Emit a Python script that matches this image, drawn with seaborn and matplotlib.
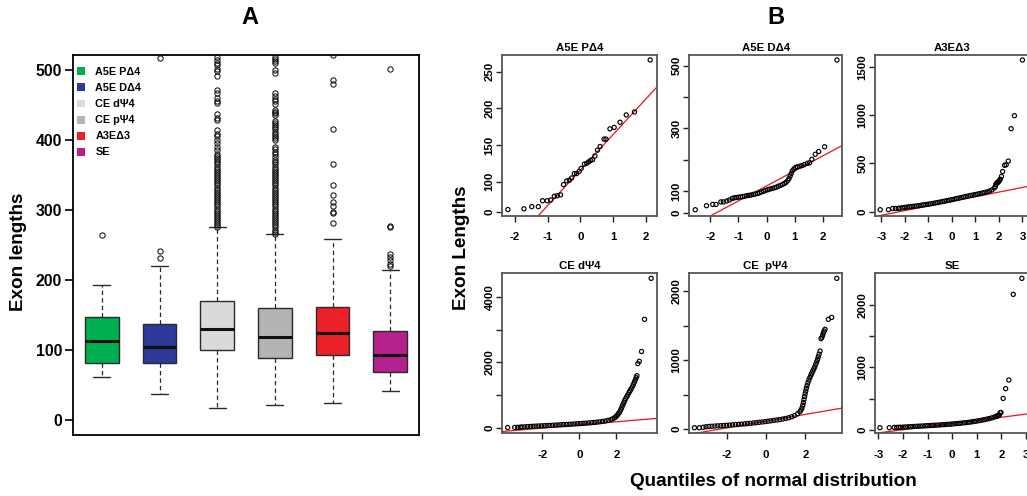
import matplotlib
matplotlib.use("Agg")
import matplotlib.pyplot as plt
from matplotlib.patches import Patch
import seaborn as sns

# ---------------- data ----------------
categories = ["A5E PΔ4", "A5E DΔ4", "CE dΨ4", "CE pΨ4", "A3EΔ3", "SE"]
box_colors = ["#00AF50", "#2B3A97", "#D9DADC", "#B3B4B6", "#EC2027", "#B4208D"]

box_med = [113, 105, 129.5, 119, 125, 93]
box_q1 = [81, 82, 100, 89, 93, 68]
box_q3 = [146.7, 136.7, 169.5, 160.5, 162, 127]
box_lo = [61, 37, 17, 21, 25, 42]
box_hi = [193, 219.5, 276, 265, 259, 214]

fliers_pd4 = [264]
fliers_dd4 = [231, 242, 517]
fliers_cd4 = [276, 278, 281, 284, 287, 290, 293, 296, 299, 302, 305, 308, 311, 314,
              317, 320, 323, 326, 329, 332, 335, 338, 341, 344, 347, 350, 353, 356,
              359, 362, 365, 368, 371, 374, 377, 380, 386, 390, 395, 400, 405, 409,
              414, 429, 432, 437, 453, 456, 460, 467, 472, 491, 498, 502, 507, 510,
              514, 519]
fliers_cp4 = [266, 269, 272, 275, 278, 281, 284, 287, 290, 293, 296, 299, 302, 305,
              308, 311, 314, 317, 320, 323, 326, 329, 332, 335, 338, 341, 344, 347,
              350, 353, 356, 359, 362, 365, 368, 372, 376, 380, 383, 387, 390, 400,
              403, 406, 409, 412, 415, 418, 421, 424, 427, 436, 438, 440, 443, 451,
              455, 458, 463, 467, 495, 500, 510, 513, 516, 519]
fliers_a3 = [281, 295, 297, 306, 311, 322, 336, 365, 416, 480, 486, 521]
fliers_se = [220, 223, 229, 233, 237, 275, 277, 502]

box_ticks = [0, 100, 200, 300, 400, 500]

# normal Q-Q points (theoretical quantile, exon length)
qq_pd4_x = [-2.22, -1.73, -1.49, -1.29, -1.16, -1.02, -0.91, -0.80, -0.71, -0.61,
            -0.52, -0.42, -0.34, -0.27, -0.19, -0.12, -0.04, 0.02, 0.12, 0.19,
            0.25, 0.31, 0.37, 0.44, 0.52, 0.60, 0.72, 0.78, 0.90, 1.03, 1.21,
            1.40, 1.65, 2.13]
qq_pd4_y = [62, 63, 66, 66, 74, 74, 75, 80, 81, 82, 96, 101, 102, 105, 111, 111,
            114, 118, 124, 125, 127, 129, 130, 135, 143, 148, 158, 158, 172, 174,
            181, 191, 195, 266]

qq_dd4_x = [-2.53, -2.13, -1.91, -1.79, -1.62, -1.53, -1.41, -1.32, -1.22,
            -1.15, -1.08, -1.00, -0.92, -0.85, -0.78, -0.70, -0.62, -0.55, -0.47,
            -0.40, -0.32, -0.25, -0.18, -0.10, -0.03, 0.05, 0.12, 0.20, 0.28,
            0.35, 0.42, 0.50, 0.57, 0.64, 0.70, 0.76, 0.80, 0.84, 0.88, 0.92,
            0.97, 1.03, 1.10, 1.18, 1.26, 1.34, 1.45, 1.53, 1.61, 1.73, 1.85,
            2.06, 2.50]
qq_dd4_y = [40, 53, 57, 57, 65, 65, 68, 71, 76,
            78, 79, 80, 81, 82, 83, 85, 86, 87, 89, 90, 92, 94, 97, 99, 102, 104,
            106, 108, 110, 112, 115, 118, 121, 124, 128, 134, 140, 148, 156, 164,
            170, 175, 177, 179, 181, 184, 188, 190, 201, 217, 226, 241, 518]

qq_a3_x = [-3.04, -2.69, -2.51, -2.39, -2.27,
           -2.2, -2.1, -2.0, -1.9, -1.8, -1.7, -1.6, -1.5, -1.4, -1.3, -1.2, -1.1,
           -1.0, -0.9, -0.8, -0.7, -0.6, -0.5, -0.4, -0.3, -0.2, -0.1, 0.0, 0.1,
           0.2, 0.3, 0.4, 0.5, 0.6, 0.7, 0.8, 0.9, 1.0, 1.1, 1.2, 1.3, 1.4, 1.5,
           1.6, 1.7, 1.8, 1.85,
           1.87, 1.90, 1.93, 1.96, 1.99, 2.02, 2.06, 2.11, 2.16, 2.24, 2.31, 2.40,
           2.52, 2.66, 3.00]
qq_a3_y = [21, 21, 34, 34, 34,
           38, 41, 45, 48, 51, 54, 57, 60, 63, 67, 71, 74, 78, 82, 86, 91, 95,
           100, 105, 110, 115, 120, 125, 130, 136, 141, 147, 152, 157, 163, 168,
           173, 178, 183, 188, 194, 199, 205, 213, 225, 245, 259,
           281, 295, 297, 306, 311, 322, 336, 365, 416, 480, 486, 524,
           859, 993, 1569]

qq_cd4_x = [-3.88, -3.50, -3.34, -3.20,
            -3.10, -2.95, -2.80, -2.65, -2.50, -2.35, -2.20, -2.05, -1.90, -1.75,
            -1.60, -1.45, -1.30, -1.15, -1.00, -0.85, -0.70, -0.55, -0.40, -0.25,
            -0.10, 0.05, 0.20, 0.35, 0.50, 0.65, 0.80, 0.95, 1.10, 1.25, 1.40,
            1.55, 1.70, 1.80,
            1.90, 1.96, 2.02, 2.08, 2.14, 2.20, 2.25, 2.30, 2.35, 2.40, 2.45, 2.50,
            2.56, 2.62, 2.68, 2.74, 2.80, 2.86, 2.92, 2.97, 3.02, 3.07, 3.11,
            3.16, 3.24, 3.36, 3.52, 3.88]
qq_cd4_y = [10, 14, 17, 21,
            27, 33, 39, 44, 49, 54, 58, 62, 66, 71, 75, 80, 85, 90, 95, 100, 105,
            110, 115, 120, 126, 132, 138, 144, 150, 158, 166, 175, 185, 197, 210,
            228, 252, 275,
            305, 335, 370, 410, 455, 510, 570, 635, 700, 770, 830, 890, 950, 1010,
            1075, 1130, 1190, 1250, 1320, 1390, 1460, 1530, 1590,
            1960, 2030, 2330, 3310, 4560]

qq_cp4_x = [-3.64, -3.39, -3.19,
            -3.05, -2.90, -2.75, -2.60, -2.45, -2.30, -2.15, -2.00, -1.85, -1.70,
            -1.55, -1.40, -1.25, -1.10, -0.95, -0.80, -0.65, -0.50, -0.35, -0.20,
            -0.05, 0.10, 0.25, 0.40, 0.55, 0.70, 0.85, 1.00, 1.15, 1.30, 1.45,
            1.60, 1.72,
            1.78, 1.83, 1.87, 1.90, 1.93, 1.96, 1.99, 2.02, 2.05, 2.09, 2.13, 2.18,
            2.23, 2.28, 2.33, 2.38, 2.43, 2.48, 2.53, 2.58, 2.62, 2.66, 2.70, 2.75,
            2.80, 2.84, 2.88, 2.92, 2.96, 3.00, 3.17, 3.34, 3.60]
qq_cp4_y = [19, 19, 25,
            33, 37, 40, 43, 46, 48, 51, 54, 57, 61, 64, 67, 71, 74, 78, 82, 87,
            92, 97, 102, 107, 113, 119, 125, 131, 137, 145, 153, 163, 177, 195,
            220, 250,
            275, 305, 345, 385, 425, 470, 510, 550, 590, 630, 670, 710, 745, 780,
            810, 840, 870, 900, 940, 975, 1010, 1048, 1085, 1130,
            1310, 1330, 1360, 1395, 1420, 1445, 1590, 1618, 2184]

qq_se_x = [-2.94, -2.56, -2.36, -2.26, -2.17,
           -2.1, -2.0, -1.9, -1.8, -1.7, -1.6, -1.5, -1.4, -1.3, -1.2, -1.1, -1.0,
           -0.9, -0.8, -0.7, -0.6, -0.5, -0.4, -0.3, -0.2, -0.1, 0.0, 0.1, 0.2,
           0.3, 0.4, 0.5, 0.6, 0.7, 0.8, 0.9, 1.0, 1.1, 1.2, 1.3, 1.4, 1.5, 1.6,
           1.7, 1.78,
           1.82, 1.85, 1.87, 1.89, 1.91, 1.95, 1.98, 2.07, 2.17, 2.30, 2.48, 2.83]
qq_se_y = [34, 34, 38, 38, 40,
           40, 43, 45, 47, 50, 52, 55, 57, 59, 61, 64, 66, 68, 71, 73, 75, 78, 81,
           84, 87, 90, 93, 97, 100, 104, 108, 112, 117, 122, 128, 134, 140, 147,
           154, 162, 171, 180, 190, 202, 214,
           220, 223, 229, 233, 237, 275, 277, 502, 658, 797, 2167, 2423]

# reference lines (intercept, slope)
qq_line_int = [116, 116, 107, 90, 114, 101]
qq_line_slope = [48.4, 48, 48, 48, 49, 50]

qq_titles = ["A5E PΔ4", "A5E DΔ4", "A3EΔ3", "CE dΨ4", "CE  pΨ4", "SE"]

# ---------------- style ----------------
sns.set_theme(style="ticks")
plt.rcParams["font.family"] = ["Liberation Sans", "DejaVu Sans"]
plt.rcParams["font.weight"] = "bold"
plt.rcParams["axes.titleweight"] = "bold"
plt.rcParams["axes.labelweight"] = "bold"
plt.rcParams["text.color"] = "black"
plt.rcParams["axes.labelcolor"] = "black"
plt.rcParams["xtick.color"] = "black"
plt.rcParams["ytick.color"] = "black"

W, H = 1027, 496
fig = plt.figure(figsize=(W / 100, H / 100), dpi=100)
fig.patch.set_facecolor("white")


def px_axes(x0, y0, x1, y1):
    return fig.add_axes([x0 / W, 1 - y1 / H, (x1 - x0) / W, (y1 - y0) / H])


# ---------------- panel A: box plots ----------------
axA = px_axes(73, 55, 419, 435)
fliers = [fliers_pd4, fliers_dd4, fliers_cd4, fliers_cp4, fliers_a3, fliers_se]
stats = [dict(med=m, q1=a, q3=b, whislo=lo, whishi=hi, fliers=f)
         for m, a, b, lo, hi, f in zip(box_med, box_q1, box_q3, box_lo, box_hi, fliers)]
bp = axA.bxp(stats, positions=range(1, 7), widths=0.58, capwidths=0.29,
             patch_artist=True, showfliers=True,
             boxprops=dict(edgecolor="#2a2a2a", linewidth=1.0),
             medianprops=dict(color="#111111", linewidth=2.2),
             whiskerprops=dict(color="#2a2a2a", linewidth=0.9, linestyle=(0, (3.5, 2.5))),
             capprops=dict(color="#2a2a2a", linewidth=1.0),
             flierprops=dict(marker="o", markersize=3.8, markerfacecolor="none",
                             markeredgecolor="#111111", markeredgewidth=0.75))
for patch, c in zip(bp["boxes"], box_colors):
    patch.set_facecolor(c)
axA.set_xlim(0.5, 6.5)
axA.set_ylim(-21.4, 521.4)
axA.set_xticks([])
axA.set_yticks(box_ticks)
axA.set_yticklabels([str(t) for t in box_ticks], fontsize=11.4, fontweight="bold")
axA.tick_params(axis="y", direction="out", length=6, width=1.2, pad=2, color="black")
for s in axA.spines.values():
    s.set_color("black")
    s.set_linewidth(1.3)
handles = [Patch(facecolor=c, edgecolor="none", label=l) for c, l in zip(box_colors, categories)]
axA.legend(handles=handles, loc="upper left", bbox_to_anchor=(0.012, 0.968),
           frameon=False, borderaxespad=0, borderpad=0, handlelength=0.68,
           handleheight=0.75, handletextpad=1.0, labelspacing=0.56,
           prop=dict(size=7.8, weight="bold"))
fig.text(19 / W, 1 - 252 / H, "Exon lengths", rotation=90, ha="center", va="center",
         fontsize=13.6, fontweight="bold")
fig.text(250 / W, 1 - 17 / H, "A", ha="center", va="center", fontsize=17, fontweight="bold")

# ---------------- panel B: normal Q-Q plots ----------------
boxes_px = [(502, 55, 656.7, 215.7), (689.3, 55, 842.3, 215.7), (875, 55, 1029, 215.7),
            (502.3, 272.7, 656.5, 433.3), (689.3, 273.3, 842.3, 433.3), (875, 273.3, 1029, 433.3)]
xlims = [(-2.40, 2.33), (-2.74, 2.69), (-3.26, 3.28), (-4.17, 4.17), (-3.9, 3.88), (-3.14, 3.12)]
ylims = [(53.6, 272.7), (21, 534), (-41, 1621), (-165, 4732), (-62, 2257), (-56, 2504)]
xticks = [[-2, -1, 0, 1, 2], [-2, -1, 0, 1, 2], [-3, -2, -1, 0, 1, 2, 3],
          [-2, 0, 2], [-2, 0, 2], [-3, -2, -1, 0, 1, 2, 3]]
yticks = [[58.6, 100, 150, 200, 250], [31, 100, 200, 300, 400, 500], [0, 500, 1000, 1500],
          [0, 1000, 2000, 3000, 4000], [0, 500, 1000, 1500, 2000], [0, 500, 1000, 1500, 2000]]
yticklabels = [["0", "100", "150", "200", "250"], ["0", "100", "", "300", "", "500"],
               ["0", "500", "1000", "1500"], ["0", "", "2000", "", "4000"],
               ["0", "", "1000", "", "2000"], ["0", "", "1000", "", "2000"]]
qq_x = [qq_pd4_x, qq_dd4_x, qq_a3_x, qq_cd4_x, qq_cp4_x, qq_se_x]
qq_y = [qq_pd4_y, qq_dd4_y, qq_a3_y, qq_cd4_y, qq_cp4_y, qq_se_y]

for i in range(6):
    ax = px_axes(*boxes_px[i])
    sns.scatterplot(x=qq_x[i], y=qq_y[i], ax=ax, marker="o", s=9, color="none",
                    edgecolor="black", linewidth=0.85, legend=False, zorder=3)
    ax.axline((0, qq_line_int[i]), slope=qq_line_slope[i], color="#E8141C",
              linewidth=0.9, zorder=2)
    ax.set_xlim(*xlims[i])
    ax.set_ylim(*ylims[i])
    ax.set_xticks(xticks[i])
    ax.set_xticklabels([str(t) for t in xticks[i]], fontsize=8.2, fontweight="bold")
    ax.set_yticks(yticks[i])
    ax.set_yticklabels(yticklabels[i], fontsize=8.2, fontweight="bold",
                       rotation=90, va="center")
    ax.tick_params(axis="x", direction="out", length=4, width=1.0, pad=8, color="#222222")
    ax.tick_params(axis="y", direction="out", length=4, width=1.0, pad=1.5, color="#222222")
    ax.set_title(qq_titles[i], fontsize=8.2, fontweight="bold", pad=3)
    ax.set_xlabel("")
    ax.set_ylabel("")
    for s in ax.spines.values():
        s.set_color("#555555")
        s.set_linewidth(1.3)

fig.text(461 / W, 1 - 248 / H, "Exon Lengths", rotation=90, ha="center", va="center",
         fontsize=13.6, fontweight="bold")
fig.text(773 / W, 1 - 482 / H, "Quantiles of normal distribution", ha="center",
         va="center", fontsize=13.6, fontweight="bold")
fig.text(776 / W, 1 - 17 / H, "B", ha="center", va="center", fontsize=17, fontweight="bold")

fig.savefig("out.png", dpi=100, facecolor="white")
